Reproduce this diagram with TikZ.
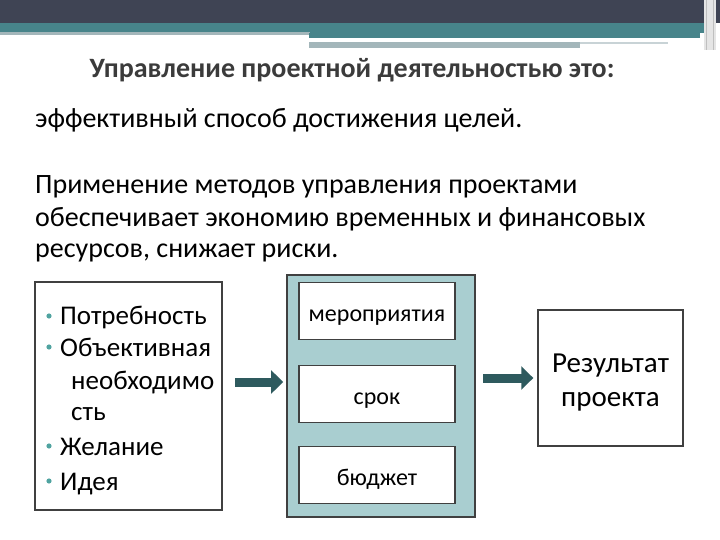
\documentclass[tikz,border=0pt]{standalone}
\usepackage{fontspec}
\setmainfont{Carlito}
\usetikzlibrary{arrows.meta}

\definecolor{bandDark}{HTML}{3F4454}
\definecolor{bandTeal}{HTML}{47848A}
\definecolor{bandLine}{HTML}{A3B6BA}
\definecolor{boxTeal}{HTML}{A9CED0}
\definecolor{arrowTeal}{HTML}{2E5A5E}
\definecolor{bulletTeal}{HTML}{4FA3A0}
\definecolor{titleGray}{HTML}{3B3B3B}

\tikzset{
  plainbox/.style={draw=black!75, line width=1.4pt, fill=white},
  blockarrow/.style={draw=arrowTeal, line width=9pt,
    -{Triangle[length=12pt, width=23pt]}},
  bodytext/.style={anchor=base west, inner sep=0pt, font=\fontsize{28}{33}\selectfont},
  boxtext/.style={anchor=base west, inner sep=0pt, font=\fontsize{27}{33}\selectfont},
}

\begin{document}
\begin{tikzpicture}[x=1pt, y=-1pt]
\useasboundingbox (0,0) rectangle (720,540);

% header bands
\fill[bandDark] (0,0) rectangle (720,23);
\fill[bandTeal] (0,23) rectangle (705,33);
\fill[bandLine] (0,32) rectangle (310,35);
\fill[bandTeal] (309,33) rectangle (700,38);
\fill[bandLine] (309,42) rectangle (580,48);
\fill[bandLine!60] (580,42) rectangle (668,44);
\fill[black!10] (704,0) rectangle (716,50);
\draw[black!25] (706,0) -- (706,50) (713,0) -- (713,50);

% text
\node[anchor=base, inner sep=0pt, text=titleGray, font=\fontsize{28}{32}\selectfont\bfseries]
  at (352,78) (title) {Управление проектной деятельностью это:};
\node[bodytext] at (35,128) (line1) {эффективный способ достижения целей.};
\node[bodytext] at (35,194) (para1) {Применение методов управления проектами};
\node[bodytext] at (35,226) (para2) {обеспечивает экономию временных и финансовых};
\node[bodytext] at (35,258) (para3) {ресурсов, снижает риски.};

% left box
\draw[plainbox] (35,282) rectangle (222,510);
\node[boxtext] at (60,324) (b1) {Потребность};
\node[boxtext] at (60,356) (b2) {Объективная};
\node[boxtext] at (71,389) (b2a) {необходимо};
\node[boxtext] at (71,420) (b2b) {сть};
\node[boxtext] at (60,455) (b3) {Желание};
\node[boxtext] at (60,490) (b4) {Идея};
\foreach \y in {316,347,446,481}
  \fill[bulletTeal] (49,\y) circle (2.6);

% middle box
\node[draw=black!75, line width=1.8pt, fill=boxTeal, minimum width=188, minimum height=242,
  inner sep=0pt] at (381,396) (mid) {};
\foreach \n/\y/\t in {m1/311/мероприятия, m2/394/срок, m3/475/бюджет}
  \node[plainbox, minimum width=156, minimum height=57, text height=21pt, text depth=0pt,
    font=\fontsize{24}{27}\selectfont] at (377,\y) (\n) {\t};

% right box
\node[plainbox, minimum width=145, minimum height=136] at (610.5,378) (res) {};
\node[align=center, font=\fontsize{29}{34}\selectfont] at ([yshift=-5pt]res.center) (restext)
  {Результат\\проекта};

% arrows
\coordinate (a1) at (235,382);
\coordinate (a2) at (483,378);
\draw[blockarrow, shorten >=3pt] (a1) -- (a1 -| mid.west);
\draw[blockarrow, shorten >=4pt] (a2) -- (a2 -| res.west);

\end{tikzpicture}
\end{document}
